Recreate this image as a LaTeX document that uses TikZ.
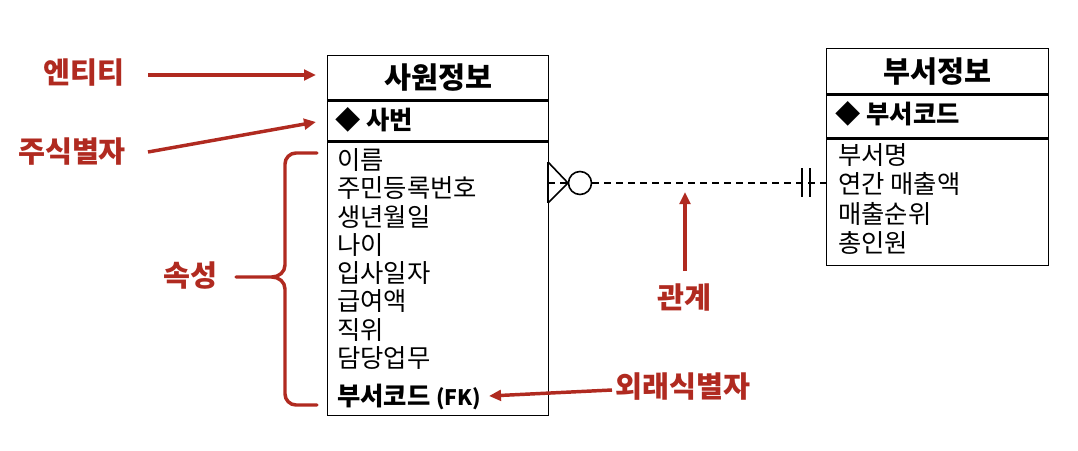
\documentclass[tikz,border=0pt]{standalone}
\usepackage{fontspec}
\setmainfont{Noto Sans CJK KR}
\usetikzlibrary{arrows.meta,calc,positioning}
\definecolor{noteRed}{HTML}{B02A20}
\begin{document}
\begin{tikzpicture}[
    x=.75pt,y=-.75pt,
    tbl/.style={draw=black,line width=1.1pt,inner sep=0pt,anchor=north west},
    headtxt/.style={font=\fontsize{22}{24}\selectfont\bfseries},
    keytxt/.style={font=\fontsize{19}{21}\selectfont\bfseries,anchor=west,inner sep=0pt},
    attrtxt/.style={font=\fontsize{19}{21}\selectfont,anchor=west,inner sep=0pt},
    note/.style={text=noteRed,font=\fontsize{22}{24}\selectfont\bfseries,inner sep=0pt},
    notearrow/.style={draw=noteRed,line width=2.6pt,-{Triangle[length=9pt,width=8pt]}},
    noteline/.style={draw=noteRed,line width=2.6pt,line cap=round},
    relline/.style={line width=1.2pt},
    reldash/.style={line width=.9pt,dash pattern=on 5pt off 4pt}
  ]
    \path[use as bounding box] (0,0) rectangle (1078,450);
    % employee table
    \node[tbl,minimum width=165.75pt,minimum height=33pt,headtxt] (ehead) at (327,55) {사원정보};
    \node[tbl,minimum width=165.75pt,minimum height=30pt] (ekey) at (ehead.south west) {};
    \node[tbl,minimum width=165.75pt,minimum height=204.75pt] (eattr) at (ekey.south west) {};
    \node[keytxt] (ekeytxt) at (335,120) {◆ 사번};
    \foreach \t [count=\i] in {이름,주민등록번호,생년월일,나이,입사일자,급여액,직위,담당업무}
      \node[attrtxt] (ea\i) at (337,{160+28.3*(\i-1)}) {\t};
    \node[attrtxt,font=\fontsize{19}{21}\selectfont\bfseries] (efk) at (337,397) {부서코드 {\fontsize{16}{18}\selectfont (FK)}};
    % department table
    \node[tbl,minimum width=166.5pt,minimum height=33.75pt,headtxt] (dhead) at (826,48) {부서정보};
    \node[tbl,minimum width=166.5pt,minimum height=32.25pt] (dkey) at (dhead.south west) {};
    \node[tbl,minimum width=166.5pt,minimum height=94.5pt] (dattr) at (dkey.south west) {};
    \node[keytxt] (dkeytxt) at (835,114) {◆ 부서코드};
    \foreach \t [count=\i] in {부서명,연간 매출액,매출순위,총인원}
      \node[attrtxt] (da\i) at (838,{155+29.3*(\i-1)}) {\t};
    % relationship
    \coordinate (crowTop) at (548,162);
    \coordinate (crowMid) at (568,183);
    \coordinate (crowBot) at (548,203);
    \coordinate (crowBase) at (548,183);
    \node[draw,circle,relline,minimum size=17.25pt,inner sep=0pt] (optc) at (580,183) {};
    \coordinate (deptEnd) at (826,183);
    \draw[line width=1.6pt] (crowTop) -- (crowBot);
    \draw[relline] (crowTop) -- (crowMid) -- (crowBot);
    \draw[reldash] (crowBase) -- (crowMid);
    \draw[reldash] (optc.east) -- (deptEnd);
    \draw[relline] (802,168) -- (802,197);
    \draw[relline] (810,168) -- (810,197);
    % notes
    \node[note] (lblEnt) at (84,73) {엔티티};
    \node[note] (lblPk) at (72,152) {주식별자};
    \node[note] (lblAttr) at (190,276) {속성};
    \node[note] (lblRel) at (684,297) {관계};
    \node[note] (lblFk) at (683,387) {외래식별자};
    \coordinate (entTip) at (316,75);
    \coordinate (pkTip) at (316,122);
    \coordinate (relTip) at (685,192);
    \coordinate (fkTip) at (489,396);
    \draw[notearrow] (148,75) -- (entTip);
    \draw[notearrow] (148,152) -- (pkTip);
    \draw[notearrow] (685,271) -- (relTip);
    \draw[notearrow] (612,390) -- (fkTip);
    % brace
    \draw[noteline] (317,153) -- (296,153) to[out=180,in=90] (285,164) -- (285,265)
      to[out=-90,in=0] (272,277) -- (236,277);
    \draw[noteline] (272,277) to[out=0,in=90] (285,289) -- (285,394)
      to[out=-90,in=180] (296,405) -- (317,405);
\end{tikzpicture}
\end{document}
